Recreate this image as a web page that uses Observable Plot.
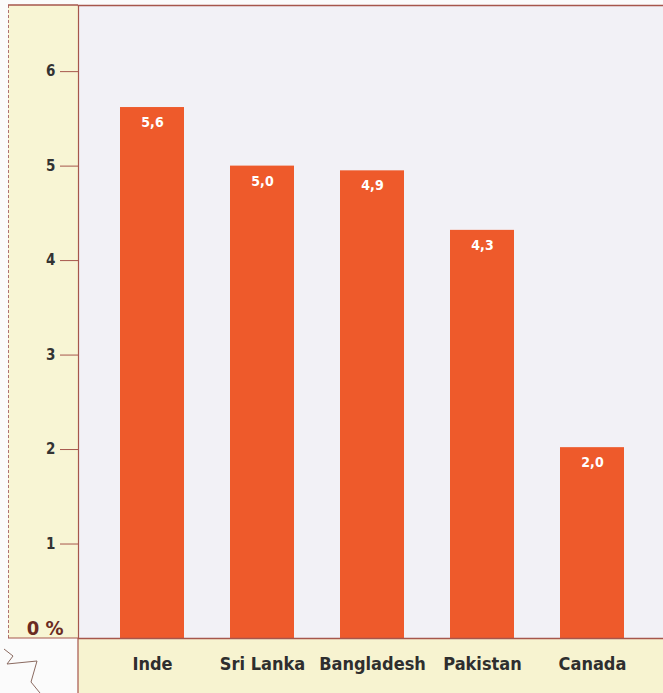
<!DOCTYPE html>
<html>
<head>
<meta charset="utf-8">
<script src="https://cdn.jsdelivr.net/npm/d3@7"></script>
<script src="https://cdn.jsdelivr.net/npm/@observablehq/plot@0.6"></script>
<style>
  html, body { margin: 0; padding: 0; background: #fbfbfb; }
  #wrap { position: relative; width: 663px; height: 693px; overflow: hidden; background: #fbfbfb; }
  #leftPanel { position: absolute; left: 8px; top: 5px; width: 70px; height: 633px; background: #f8f5d4; border-left: 1px dashed #b07070; }
  #bottomBand { position: absolute; left: 78px; top: 638px; width: 585px; height: 55px; background: #f7f3d0; }
  #deco { position: absolute; left: 0; top: 0; }
  #chart { position: absolute; left: 0; top: 0; }
  #chart svg { background: transparent !important; }
  #chart svg text { font-stretch: condensed; }
</style>
</head>
<body>
<div id="wrap">
  <div id="leftPanel"></div>
  <div id="bottomBand"></div>
  <svg id="deco" width="663" height="693">
    <path d="M4,649 L13,656 L7,664 L37,661 L31,682 L40,693" fill="none" stroke="#8a6a60" stroke-width="1"/>
  </svg>
  <div id="chart"></div>
</div>
<script>
const countries = ["Inde", "Sri Lanka", "Bangladesh", "Pakistan", "Canada"];
const values = [5.62, 5.0, 4.95, 4.32, 2.02];
const valueLabels = ["5,6", "5,0", "4,9", "4,3", "2,0"];
const yTicks = [1, 2, 3, 4, 5, 6];

const data = countries.map((c, i) => ({country: c, value: values[i], label: valueLabels[i]}));

const font = "'DejaVu Sans Condensed', 'Liberation Sans Narrow', sans-serif";
const border = "#a6564c";

const chart = Plot.plot({
  width: 663,
  height: 693,
  marginLeft: 78,
  marginRight: 0,
  marginTop: 5,
  marginBottom: 55,
  style: {background: "transparent", fontFamily: font, overflow: "visible"},
  x: {domain: countries, range: [96, 648], paddingInner: 0.42, paddingOuter: 0.21, axis: null, label: null},
  y: {domain: [0, 6.7], range: [638, 5], axis: null, label: null},
  marks: [
    Plot.frame({fill: "#f2f1f6", stroke: null}),
    Plot.barY(data, {x: "country", y: "value", fill: "#ee5a2b"}),
    Plot.text(data, {x: "country", y: "value", text: "label", dy: 15, fill: "white", fontWeight: "bold", fontSize: 14}),
    Plot.axisY({ticks: yTicks, anchor: "left", label: null, tickSize: 18, tickPadding: 5, tickFormat: d => String(d), fontSize: 15, fontWeight: "bold", stroke: border, color: "#333", strokeWidth: 1}),
    Plot.text(["0 %"], {y: 0, frameAnchor: "left", dx: -15, dy: -10, textAnchor: "end", fill: "#6b2a22", fontWeight: "bold", fontSize: 20}),
    Plot.axisX({anchor: "bottom", label: null, tickSize: 0, tickPadding: 19, fontSize: 18, fontWeight: "bold", color: "#2e2e2e"}),
    Plot.ruleY([0], {stroke: border, strokeWidth: 1.5}),
    Plot.frame({anchor: "top", stroke: border, strokeWidth: 1.5}),
    Plot.frame({anchor: "left", stroke: border, strokeWidth: 1.2})
  ]
});
document.getElementById("chart").appendChild(chart);

// extend decorative borders: top border across left panel, vertical line through bottom band
const svg = d3.select(chart);
svg.append("line").attr("x1", 8).attr("x2", 78).attr("y1", 5).attr("y2", 5).attr("stroke", border).attr("stroke-width", 1.5);
svg.append("line").attr("x1", 78).attr("x2", 78).attr("y1", 638).attr("y2", 693).attr("stroke", border).attr("stroke-width", 1.2);
svg.append("line").attr("x1", 8).attr("x2", 78).attr("y1", 638).attr("y2", 638).attr("stroke", border).attr("stroke-width", 1);
</script>
</body>
</html>
